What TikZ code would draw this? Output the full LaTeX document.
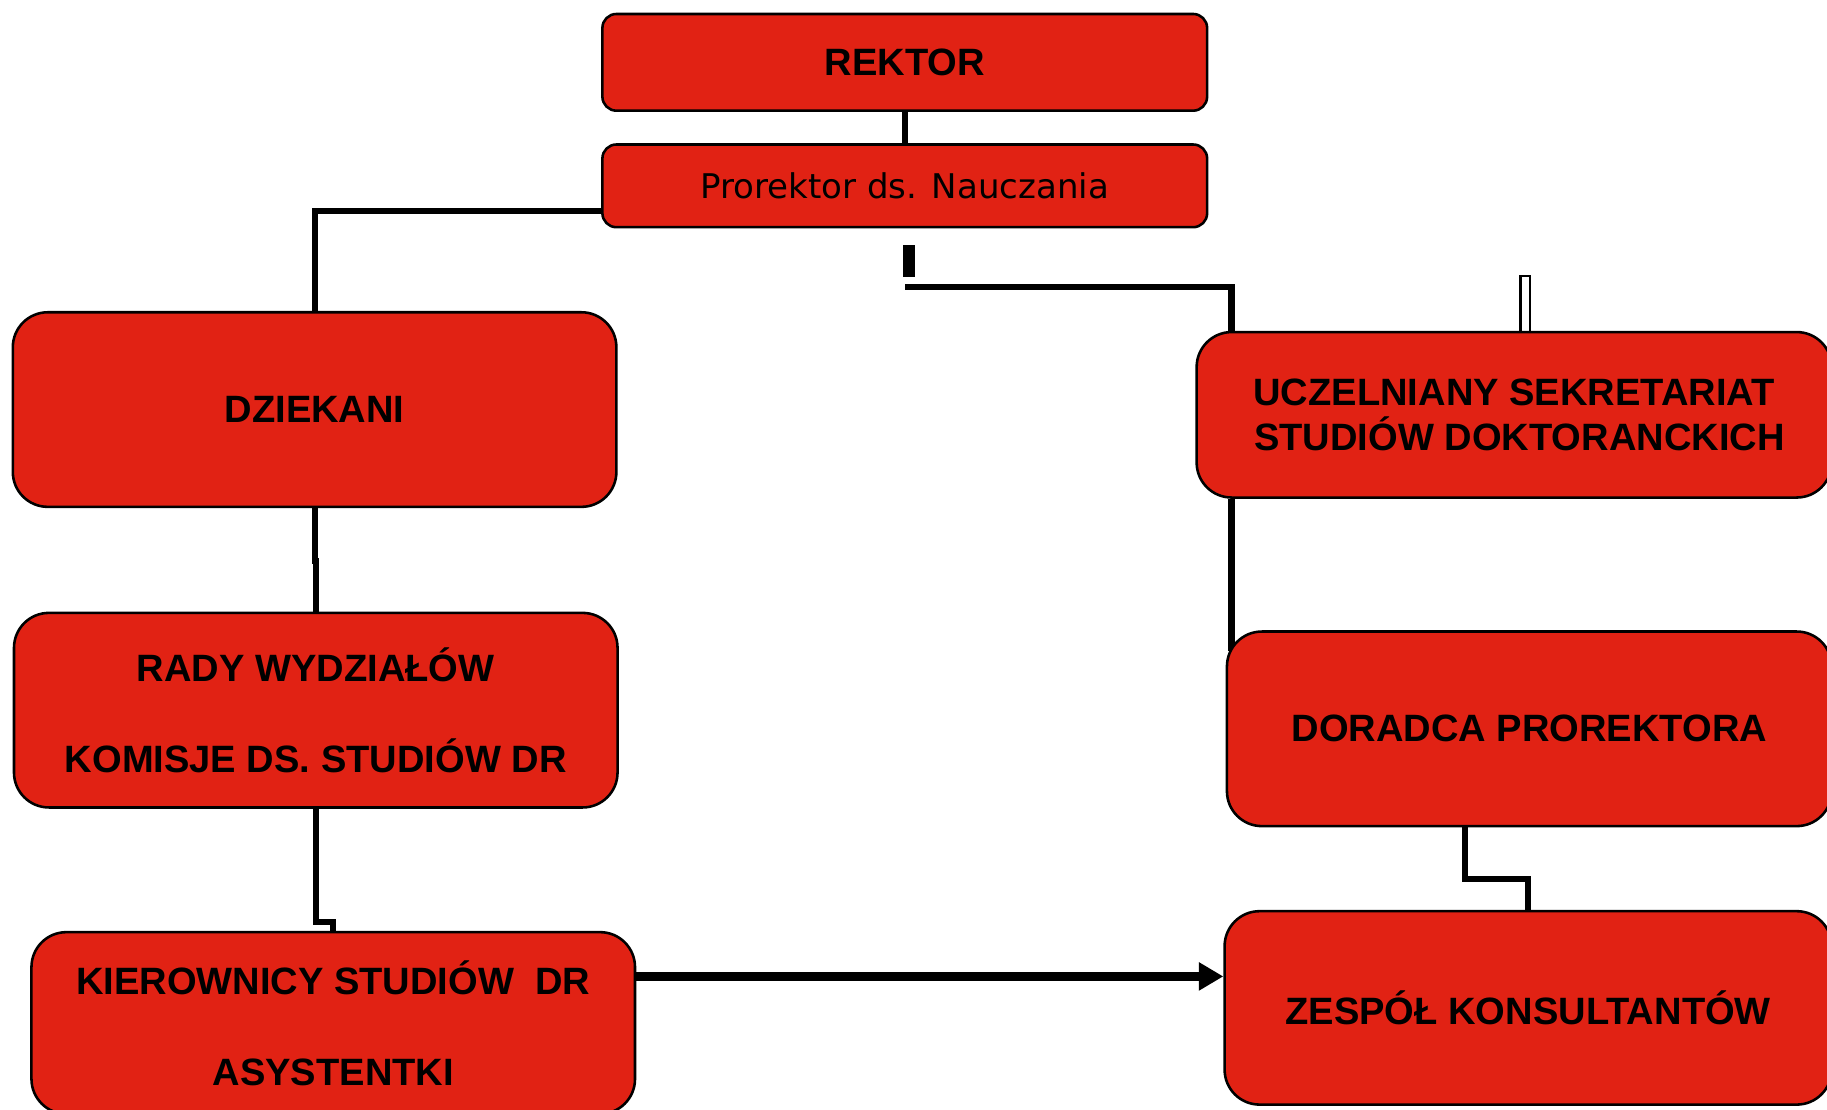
\documentclass[tikz,border=0pt]{standalone}
\usepackage{fontspec}
\setmainfont{Liberation Sans}
\newfontfamily\dejavu{DejaVu Sans}
\usetikzlibrary{arrows.meta,positioning,backgrounds}
\definecolor{boxred}{HTML}{E12214}
\tikzset{unit/.style={rectangle,rounded corners=15pt,draw=black,line width=1.1pt,fill=boxred,
  align=center,inner sep=0pt,font=\bfseries\fontsize{16.35}{19.6}\selectfont}}
\tikzset{link/.style={line width=2.6pt}}

\begin{document}
\begin{tikzpicture}[x=0.5pt,y=-0.5pt]
% \draw[help lines] (0,0) grid (1568,952);
\useasboundingbox (0,0) rectangle (1568,952);
\node (rektor) [unit,rounded corners=6pt,minimum width=259.5pt,minimum height=41.5pt] at (776.5,53.5) {REKTOR};
\node (prorektor) [unit,rounded corners=6pt,minimum width=259.5pt,minimum height=35.5pt,
  font=\dejavu\fontsize{14.6}{17}\selectfont] at (776.5,159.5) {Prorektor ds. Nauczania};
%
\node (dziekani) [unit,minimum width=259pt,minimum height=83.5pt] at (270,351.5) {DZIEKANI};
\node (rady) [unit,minimum width=259pt,minimum height=83.5pt] at (271,609.5)
  {RADY WYDZIAŁÓW\\[19.6pt]KOMISJE DS. STUDIÓW DR};
\node (kier) [unit,minimum width=259pt,minimum height=78pt] at (286,878)
  {KIEROWNICY STUDIÓW\ \ DR\\[19.6pt]ASYSTENTKI};
%
\node (ussd) [unit,minimum width=272.5pt,minimum height=71pt] at (1299.5,356)
  {UCZELNIANY SEKRETARIAT\\\ STUDIÓW DOKTORANCKICH};
\node (doradca) [unit,minimum width=259.5pt,minimum height=83.5pt] at (1312.5,625.5) {DORADCA PROREKTORA};
\node (zespol) [unit,minimum width=260.5pt,minimum height=83pt] at (1311.5,865) {ZESPÓŁ KONSULTANTÓW};
%
\coordinate (stub) at (775,210);
\coordinate (tap) at (777,246);
\begin{scope}[on background layer]
\fill (stub) rectangle ++(10,28);
\draw[link] (rektor) -- (prorektor);
\draw[link] ([yshift=-10.75pt]prorektor.west) -| (dziekani.north);
\draw[link] (dziekani.south) -- ++(0,45) -| (rady.north);
\draw[link] (rady.south) -- ++(0,97) -| (kier.north);
\draw[link] (tap) -| ([xshift=15.5pt]ussd.north west);
\draw[link] ([xshift=15.5pt]ussd.south west) -- ([xshift=2.5pt,yshift=-9pt]doradca.north west);
\draw[link] ([xshift=-27.5pt]doradca.south) -- ++(0,44) -| (zespol.north);
\draw[line width=1pt,fill=white] (1305,237) rectangle (1313,290);
\end{scope}
\draw[line width=3.6pt,-{Triangle[length=10.5pt,width=11.5pt]}] ([yshift=20pt]kier.east) -- ([yshift=13.5pt]zespol.west);
\end{tikzpicture}
\end{document}
